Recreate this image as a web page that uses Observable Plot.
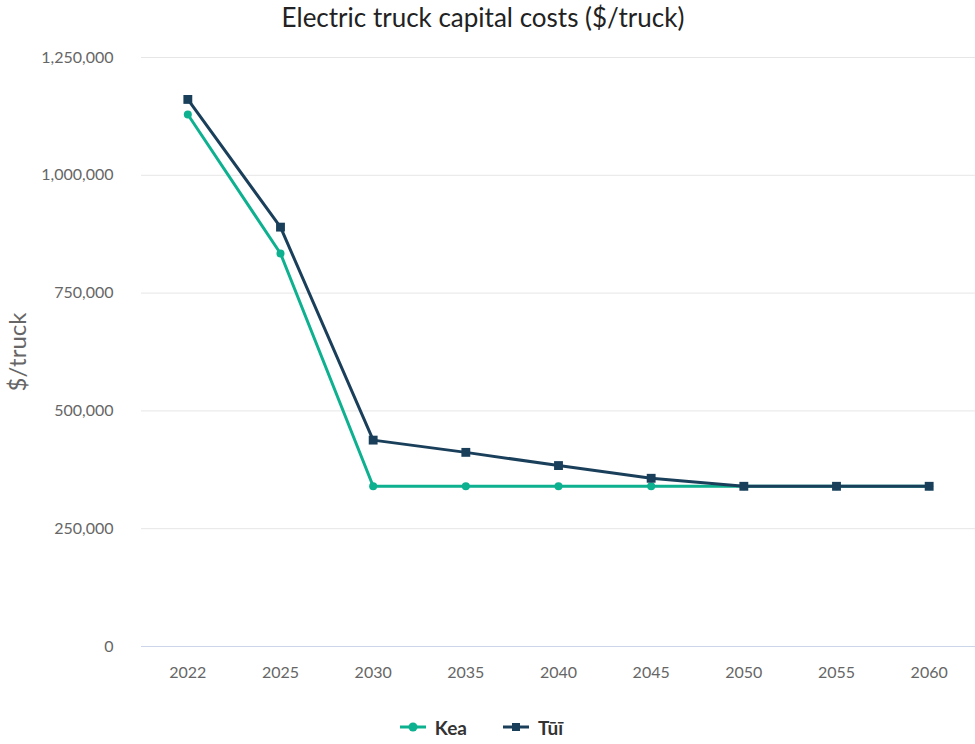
<!DOCTYPE html>
<html>
<head>
<meta charset="utf-8">
<script src="https://cdn.jsdelivr.net/npm/d3@7"></script>
<script src="https://cdn.jsdelivr.net/npm/@observablehq/plot@0.6"></script>
<style>
  body { margin: 0; background: #fff; font-family: "Source Sans Pro", Lato, "Noto Sans", sans-serif; }
  #wrap { width: 975px; }
  #title { height: 36px; line-height: 34px; text-align: center; font-size: 26px; color: #222; padding-right: 9px; }
  #legend { height: 34px; padding-top: 10px; display: flex; justify-content: center; align-items: center; gap: 36px; padding-right: 12px; font-size: 19px; font-weight: bold; color: #333; }
  .item { display: flex; align-items: center; gap: 9px; }
</style>
</head>
<body>
<div id="wrap">
  <div id="title">Electric truck capital costs ($/truck)</div>
  <div id="chart"></div>
  <div id="legend"></div>
</div>
<script>
// Capital cost per electric truck, by year, for the two scenarios
const years = ["2022", "2025", "2030", "2035", "2040", "2045", "2050", "2055", "2060"];
const kea = [1129000, 834000, 340000, 340000, 340000, 340000, 340000, 340000, 340000];
const tui = [1161000, 890000, 438000, 412000, 384000, 357000, 340000, 340000, 340000];
const seriesNames = ["Kea", "Tūī"];
const seriesColors = ["#0db08f", "#1a3f5b"];
const yTicks = [0, 250000, 500000, 750000, 1000000, 1250000];

const rows = [];
years.forEach((yr, i) => {
  rows.push({year: yr, value: kea[i], series: seriesNames[0]});
  rows.push({year: yr, value: tui[i], series: seriesNames[1]});
});
const keaRows = rows.filter(d => d.series === "Kea");
const tuiRows = rows.filter(d => d.series === "Tūī");

const fmt = d3.format(",");

const chart = Plot.plot({
  width: 975,
  height: 664,
  marginLeft: 141,
  marginRight: 0,
  marginTop: 21,
  marginBottom: 54,
  style: {fontFamily: '"Source Sans Pro", Lato, "Noto Sans", sans-serif', fontSize: "16px", color: "#666"},
  x: {type: "point", domain: years, padding: 0.5, round: false},
  y: {domain: [0, 1250000]},
  marks: [
    Plot.gridY(yTicks, {stroke: "#e6e6e6", strokeOpacity: 1, strokeWidth: 1}),
    Plot.ruleY([0], {stroke: "#ccd6eb", strokeWidth: 1}),
    Plot.axisY(yTicks, {tickSize: 0, tickPadding: 28, tickFormat: fmt, label: null, fill: "#666", fontSize: 16}),
    Plot.axisX({tickSize: 0, tickPadding: 20, label: null, fill: "#666", fontSize: 16}),
    Plot.text(["$/truck"], {frameAnchor: "left", textAnchor: "middle", rotate: -90, dx: -123, fontSize: 24, fill: "#666"}),
    Plot.line(keaRows, {x: "year", y: "value", stroke: seriesColors[0], strokeWidth: 3}),
    Plot.dot(keaRows, {x: "year", y: "value", fill: seriesColors[0], r: 4, symbol: "circle"}),
    Plot.line(tuiRows, {x: "year", y: "value", stroke: seriesColors[1], strokeWidth: 3}),
    Plot.dot(tuiRows, {x: "year", y: "value", fill: seriesColors[1], r: 5, symbol: "square"})
  ]
});
document.getElementById("chart").appendChild(chart);

// Legend: line-with-marker swatch for each series
const legend = document.getElementById("legend");
seriesNames.forEach((name, i) => {
  const item = document.createElement("div");
  item.className = "item";
  const marker = i === 0
    ? `<circle cx="13" cy="7" r="4.5" fill="${seriesColors[i]}"/>`
    : `<rect x="9" y="3" width="8" height="8" fill="${seriesColors[i]}"/>`;
  item.innerHTML = `<svg width="26" height="14"><line x1="0" x2="26" y1="7" y2="7" stroke="${seriesColors[i]}" stroke-width="3"/>${marker}</svg><span>${name}</span>`;
  legend.appendChild(item);
});
</script>
</body>
</html>
